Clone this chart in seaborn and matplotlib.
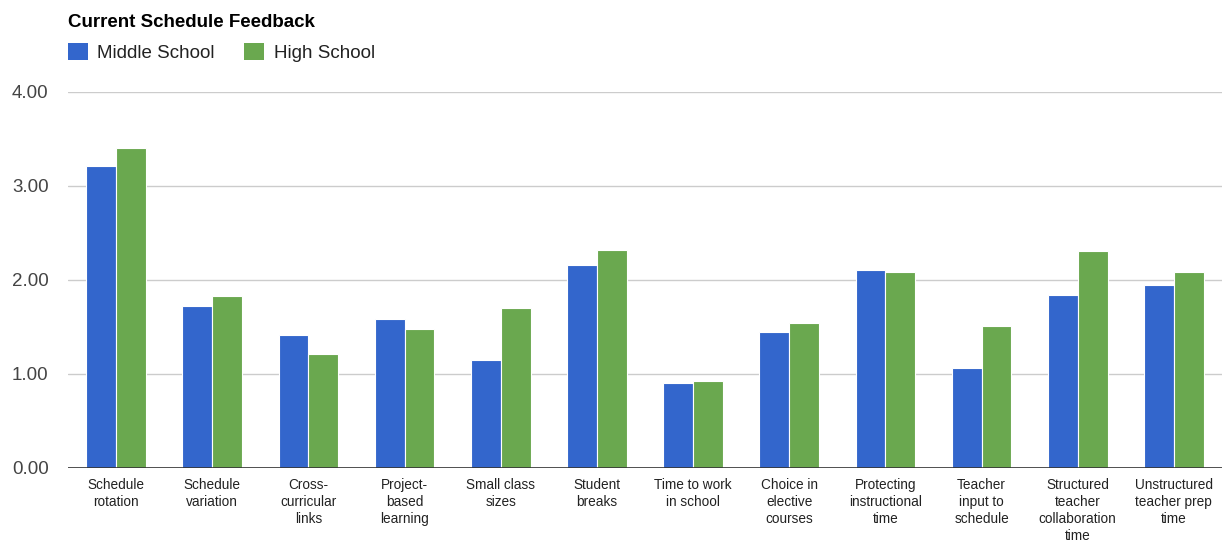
import pandas as pd
import seaborn as sns
import matplotlib.pyplot as plt
from matplotlib.patches import Patch

# Data
categories = ['Schedule\nrotation', 'Schedule\nvariation', 'Cross-\ncurricular\nlinks',
              'Project-\nbased\nlearning', 'Small class\nsizes', 'Student\nbreaks',
              'Time to work\nin school', 'Choice in\nelective\ncourses',
              'Protecting\ninstructional\ntime', 'Teacher\ninput to\nschedule',
              'Structured\nteacher\ncollaboration\ntime', 'Unstructured\nteacher prep\ntime']
middle_school = [3.21, 1.72, 1.42, 1.59, 1.15, 2.16, 0.90, 1.45, 2.11, 1.06, 1.84, 1.95]
high_school = [3.40, 1.83, 1.21, 1.48, 1.70, 2.32, 0.93, 1.54, 2.08, 1.51, 2.31, 2.08]
series = ['Middle School', 'High School']
y_ticks = [0, 1, 2, 3, 4]

df = pd.DataFrame({
    'category': categories * 2,
    'value': middle_school + high_school,
    'school': [series[0]] * len(categories) + [series[1]] * len(categories),
})

colors = {'Middle School': '#3366CC', 'High School': '#6AA84F'}

sns.set_style('white')
plt.rcParams['font.family'] = ['Liberation Sans', 'DejaVu Sans']

fig = plt.figure(figsize=(12.23, 5.41), dpi=100)
ax = fig.add_axes([68 / 1223, 1 - 468 / 541, (1222 - 68) / 1223, (468 - 92) / 541])

sns.barplot(data=df, x='category', y='value', hue='school', palette=colors,
            saturation=1, width=0.62, edgecolor='white', linewidth=0.8,
            ax=ax, legend=False)

ax.set_ylim(0, 4)
ax.set_xlim(-0.5, len(categories) - 0.5)
ax.set_yticks(y_ticks)
ax.set_yticklabels([f'{t:.2f}' for t in y_ticks], fontsize=13.5, color='#444444')
ax.tick_params(axis='y', length=0, pad=14)
ax.tick_params(axis='x', length=0, pad=7)
for lbl in ax.get_xticklabels():
    lbl.set_fontsize(9.8)
    lbl.set_linespacing(1.28)
    lbl.set_color('#222222')
    lbl.set_verticalalignment('top')
ax.set_xlabel('')
ax.set_ylabel('')
ax.grid(axis='y', color='#CCCCCC', linewidth=1)
ax.set_axisbelow(True)
ax.axhline(0, color='#333333', linewidth=1.2, zorder=5)
for s in ax.spines.values():
    s.set_visible(False)

fig.text(68 / 1223, 1 - 14 / 541, 'Current Schedule Feedback', fontsize=13.5,
         fontweight='bold', ha='left', va='top', color='black')

handles = [Patch(facecolor=colors[s], edgecolor='none', label=s) for s in series]
fig.legend(handles=handles, loc='upper left', bbox_to_anchor=(51 / 1223, 1 - 26 / 541),
           ncol=2, frameon=False, fontsize=13.5, handlelength=1.05, handleheight=1.05,
           handletextpad=0.5, columnspacing=1.6, labelcolor='#222222')

fig.savefig('out.png', dpi=100)
